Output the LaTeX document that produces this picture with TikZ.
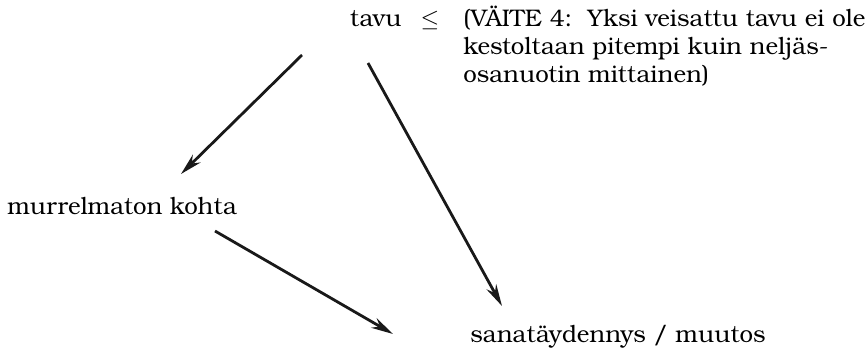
\documentclass[tikz,border=0pt]{standalone}
\usepackage{fontspec}
\setmainfont{TeX Gyre Bonum}
\usetikzlibrary{arrows.meta,positioning}

\begin{document}
\begin{tikzpicture}[x=0.5pt,y=-0.5pt,>={Stealth[length=11pt,width=5.5pt]},
  lbl/.style={inner sep=0pt,font=\fontsize{12}{14.2}\selectfont},
  arr/.style={->,line width=1.4pt,black!90}]
\useasboundingbox (0,0) rectangle (868,348);
% --- texts ---
\node[lbl,anchor=base east] (tavu) at (402,26) {tavu};
\node[lbl,anchor=base] (leq) at (430,26) {$\leq$};
\node[lbl,anchor=base west,align=left] (vaite) at (463,83)
  {(VÄITE 4:\ \ Yksi veisattu tavu ei ole\\kestoltaan pitempi kuin neljäs-\\osanuotin mittainen)};
\node[lbl,anchor=base west] (murr) at (7,214) {murrelmaton kohta};
\node[lbl,anchor=base west] (sana) at (470,342) {sanatäydennys / muutos};
% --- arrow ends ---
\coordinate (a1) at (302,55);  \coordinate (b1) at (181,174);
\coordinate (a2) at (368,63);  \coordinate (b2) at (502,306);
\coordinate (a3) at (215,231); \coordinate (b3) at (393,334);
\draw[arr] (a1) -- (b1);
\draw[arr] (a2) -- (b2);
\draw[arr] (a3) -- (b3);
\end{tikzpicture}
\end{document}
